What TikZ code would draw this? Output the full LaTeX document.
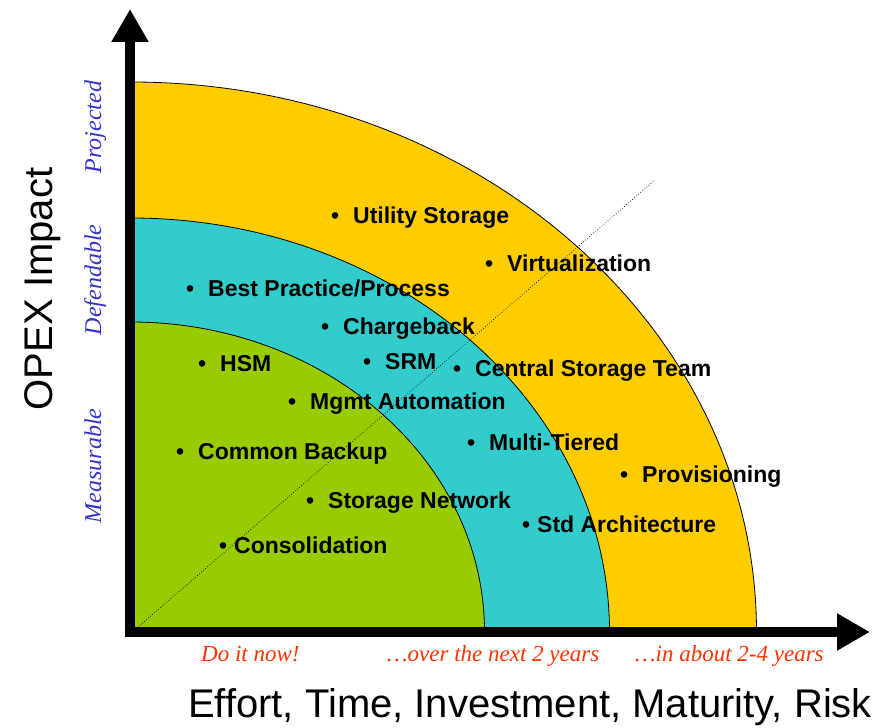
\documentclass[tikz,border=0pt]{standalone}
\usepackage{fontspec}
\setmainfont{Liberation Serif}
\setsansfont{Liberation Sans}
\usepackage{tikz}
\usetikzlibrary{calc, arrows.meta}

\definecolor{bandYellow}{RGB}{255,204,0}
\definecolor{bandCyan}{RGB}{51,204,204}
\definecolor{bandGreen}{RGB}{153,204,0}
\definecolor{levelBlue}{RGB}{51,51,204}
\definecolor{horizonRed}{RGB}{255,51,0}

\tikzset{
	item/.style={anchor=base west, inner sep=0pt, font=\sffamily\bfseries\fontsize{23}{26}\selectfont},
	level/.style={rotate=90, anchor=base, inner sep=0pt, text=levelBlue, font=\itshape\fontsize{24}{26}\selectfont},
	horizon/.style={anchor=base west, inner sep=0pt, text=horizonRed, font=\itshape\fontsize{23}{26}\selectfont},
	axisLabel/.style={anchor=base, inner sep=0pt, font=\sffamily\fontsize{40}{44}\selectfont}
}

\begin{document}
\begin{tikzpicture}[x=1pt, y=1pt]
			\useasboundingbox (0,0) rectangle (892,728);
			\coordinate (O) at (130.5,96);

			\newcommand{\drawBand}[3]
			{
				\filldraw [fill=#1, draw=black, line width=0.8pt] (O) -- ++(#2,0) arc [start angle=0, end angle=90, x radius=#2, y radius=#3] -- cycle
			}

			\newcommand{\placeItem}[5]
			{
				\node [item] (#1) at (#2,#3) {\llap{\textbullet\hspace{#4}}#5}
			}

			\begin{scope}
				\drawBand{bandYellow}{626}{550};
				\drawBand{bandCyan}{479}{414};
				\drawBand{bandGreen}{354}{310};
			\end{scope}

			% diagonal guide
			\coordinate (diagStart) at (138,101);
			\coordinate (diagEnd) at (655,548);
			\draw [dotted, line width=0.7pt] (diagStart) -- (diagEnd);

			\begin{scope}[line width=10pt, -{Triangle[length=33pt, width=35pt]}]
				\coordinate (yTop) at (130,719);
				\coordinate (yFoot) at (130,91);
				\coordinate (xEnd) at (870,96);
				\coordinate (xFoot) at (125,96);
				\draw (yFoot) -- (yTop);
				\draw (xFoot) -- (xEnd);
			\end{scope}

			\node [axisLabel, rotate=90] (opex) at (53,439) {OPEX Impact};
			\node [axisLabel] (effort) at (530,10) {Effort, Time, Investment, Maturity, Risk};

			\node [level] (projected) at (101,601) {Projected};
			\node [level] (defendable) at (101,448) {Defendable};
			\node [level] (measurable) at (101,262) {Measurable};

			\node [horizon] (now) at (201,66) {Do it now!};
			\node [horizon] (twoYears) at (387,66) {…over the next 2 years};
			\node [horizon] (fourYears) at (635,66) {…in about 2-4 years};

			\placeItem{utility}{353}{504}{14pt}{Utility Storage};
			\placeItem{virtual}{507}{456}{14pt}{Virtualization};
			\placeItem{bestPractice}{208}{431}{14pt}{Best Practice/Process};
			\placeItem{chargeback}{343}{393}{14pt}{Chargeback};
			\placeItem{hsm}{220}{356}{14pt}{HSM};
			\placeItem{srm}{385}{358}{14pt}{SRM};
			\placeItem{central}{475}{351}{14pt}{Central Storage Team};
			\placeItem{mgmt}{310}{318}{14pt}{Mgmt Automation};
			\placeItem{backup}{198}{268}{14pt}{Common Backup};
			\placeItem{tiered}{489}{277}{14pt}{Multi-Tiered};
			\placeItem{provisioning}{642}{245}{14pt}{Provisioning};
			\placeItem{network}{328}{219}{14pt}{Storage Network};
			\placeItem{stdArch}{537}{195}{7pt}{Std Architecture};
			\placeItem{consolidation}{234}{174}{7pt}{Consolidation};
		\end{tikzpicture}
\end{document}
